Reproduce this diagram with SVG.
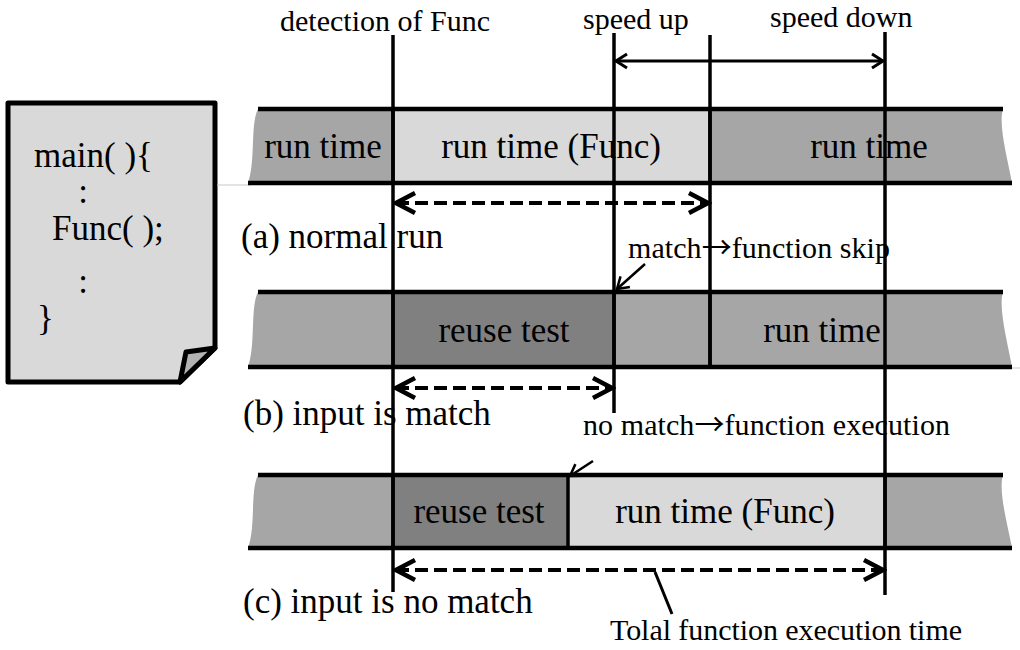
<svg xmlns="http://www.w3.org/2000/svg" width="1020" height="650" viewBox="0 0 1020 650">
<style>
text{font-family:"Liberation Serif","Times New Roman",serif;fill:#000}
.big{font-size:35px}
.sm{font-size:30px}
.mid{text-anchor:middle}
.arr{font-family:"Noto Sans CJK JP","DejaVu Sans",sans-serif}
.rim{stroke:#000;stroke-width:4.5;fill:none}
.div{stroke:#000;stroke-width:3.5}
.vl{stroke:#000;stroke-width:3.5;fill:none}
.dash{stroke:#000;stroke-width:4;stroke-dasharray:13 6;fill:none;marker-start:url(#dh);marker-end:url(#dh)}
.solid{stroke:#000;stroke-width:3;fill:none;marker-start:url(#sh);marker-end:url(#sh)}
.call{stroke:#000;stroke-width:2.5;fill:none;marker-end:url(#ch)}
.g1{fill:#a6a6a6}.g2{fill:#d9d9d9}.g3{fill:#808080}
</style>
<defs>
<marker id="dh" markerUnits="userSpaceOnUse" viewBox="-24 -14 28 28" markerWidth="28" markerHeight="28" refX="0" refY="0" orient="auto-start-reverse">
<path d="M-19,-10 L0,0 L-19,10" fill="none" stroke="#000" stroke-width="4.5"/>
</marker>
<marker id="sh" markerUnits="userSpaceOnUse" viewBox="-14 -10 16 20" markerWidth="16" markerHeight="20" refX="0" refY="0" orient="auto-start-reverse">
<path d="M-11,-7 L0,0 L-11,7" fill="none" stroke="#000" stroke-width="3"/>
</marker>
<marker id="ch" markerUnits="userSpaceOnUse" viewBox="-14 -10 16 20" markerWidth="16" markerHeight="20" refX="0" refY="0" orient="auto">
<path d="M-11,-7 L0,0 L-11,7" fill="none" stroke="#000" stroke-width="2.5"/>
</marker>
</defs>
<rect width="1020" height="650" fill="#fff"/>

<g id="doc">
<path d="M8,103 L215,103 L215,348 L180,382 L8,382 Z" fill="#d9d9d9" stroke="#000" stroke-width="5" stroke-linejoin="round"/>
<path d="M186,352 L215,348 L180,382 Z" fill="#b3b3b3" stroke="#000" stroke-width="5" stroke-linejoin="round"/>
<text class="big" x="34" y="167">main( ){</text>
<text class="big mid" x="83" y="203">:</text>
<text class="big" x="52" y="240">Func( );</text>
<text class="big mid" x="83" y="293">:</text>
<text class="big" x="37" y="330">}</text>
</g>
<line x1="217" y1="185" x2="250" y2="185" stroke="#c8c8c8" stroke-width="1"/>
<line x1="1005" y1="368" x2="1020" y2="368" stroke="#c8c8c8" stroke-width="1"/>

<g id="bar-a">
<path class="g1" d="M258,109 L393,109 L393,183 L248,183 C256,160 250,125 258,109 Z"/>
<rect class="g2" x="393" y="109" width="317" height="74"/>
<path class="g1" d="M710,109 L1003,109 C998,125 1008,160 1012,183 L710,183 Z"/>
<text class="big mid" x="323" y="158">run time</text>
<text class="big mid" x="551" y="158">run time (Func)</text>
<text class="big mid" x="869" y="158">run time</text>
<line class="rim" x1="258" y1="109" x2="1003" y2="109"/>
<line class="rim" x1="248" y1="183" x2="1012" y2="183"/>
<line class="div" x1="393" y1="109" x2="393" y2="183"/>
<line class="div" x1="710" y1="109" x2="710" y2="183"/>
</g>

<g id="bar-b">
<path class="g1" d="M258,292 L393,292 L393,367 L248,367 C256,344 250,308 258,292 Z"/>
<rect class="g3" x="393" y="292" width="221" height="75"/>
<path class="g1" d="M614,292 L1003,292 C998,308 1008,344 1012,367 L614,367 Z"/>
<text class="big mid" x="504" y="342">reuse test</text>
<text class="big mid" x="822" y="342">run time</text>
<line class="rim" x1="258" y1="292" x2="1003" y2="292"/>
<line class="rim" x1="248" y1="367" x2="1012" y2="367"/>
<line class="div" x1="393" y1="292" x2="393" y2="367"/>
<line class="div" x1="614" y1="292" x2="614" y2="367"/>
<line class="div" x1="710" y1="292" x2="710" y2="367"/>
</g>

<g id="bar-c">
<path class="g1" d="M258,475 L393,475 L393,548 L248,548 C256,526 250,491 258,475 Z"/>
<rect class="g3" x="393" y="475" width="175" height="73"/>
<rect class="g2" x="568" y="475" width="317" height="73"/>
<path class="g1" d="M885,475 L1003,475 C998,491 1008,526 1012,548 L885,548 Z"/>
<text class="big mid" x="479" y="523">reuse test</text>
<text class="big mid" x="725" y="523">run time (Func)</text>
<line class="rim" x1="258" y1="475" x2="1003" y2="475"/>
<line class="rim" x1="248" y1="548" x2="1012" y2="548"/>
<line class="div" x1="393" y1="475" x2="393" y2="548"/>
<line class="div" x1="568" y1="475" x2="568" y2="548"/>
<line class="div" x1="885" y1="475" x2="885" y2="548"/>
</g>

<g id="labels">
<text class="sm" x="280" y="31" textLength="210" lengthAdjust="spacing">detection of Func</text>
<text class="sm" x="583" y="29">speed up</text>
<text class="sm" x="770" y="27">speed down</text>
<text class="big" x="241" y="248">(a) normal run</text>
<text class="sm" x="628" y="258" textLength="262" lengthAdjust="spacing">match<tspan class="arr">→</tspan>function skip</text>
<text class="big" x="243" y="425">(b) input is match</text>
<text class="sm" x="583" y="435" textLength="367" lengthAdjust="spacing">no match<tspan class="arr">→</tspan>function execution</text>
<text class="big" x="243" y="613">(c) input is no match</text>
<text class="sm" x="610" y="640" textLength="352" lengthAdjust="spacing">Tolal function execution time</text>
</g>

<g id="connectors">
<line class="vl" x1="393" y1="35" x2="393" y2="592"/>
<line class="vl" x1="614" y1="33" x2="614" y2="413"/>
<line class="vl" x1="710" y1="35" x2="710" y2="367"/>
<line class="vl" x1="885" y1="32" x2="885" y2="595"/>
<line class="solid" x1="616" y1="61" x2="883" y2="61"/>
<line class="dash" x1="396" y1="203" x2="708" y2="203"/>
<line class="dash" x1="396" y1="388" x2="612" y2="388"/>
<line class="dash" x1="396" y1="570" x2="883" y2="570"/>
<line class="call" x1="645" y1="264" x2="617" y2="289"/>
<line class="call" x1="593" y1="461" x2="570" y2="476"/>
<line stroke="#000" stroke-width="3" x1="655" y1="572" x2="672" y2="614"/>
</g>
</svg>
